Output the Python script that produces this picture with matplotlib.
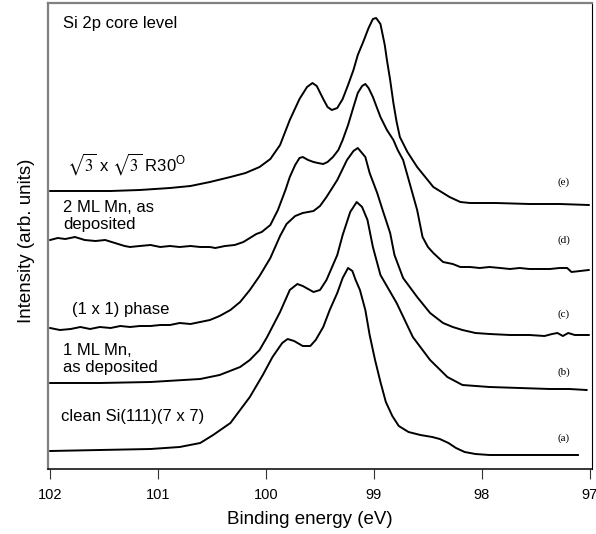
import matplotlib
matplotlib.use("Agg")
import matplotlib.pyplot as plt

plt.rcParams['font.family'] = ['Liberation Sans', 'DejaVu Sans']
plt.rcParams['mathtext.fontset'] = 'stix'

# Binding energy (eV) and intensity (arb. units) for each spectrum
E_a = [102.00, 101.54, 101.07, 100.80, 100.61, 100.49, 100.33, 100.24, 100.15, 100.03, 99.94, 99.85,
       99.80, 99.74, 99.66, 99.59, 99.54, 99.47, 99.41, 99.34, 99.29, 99.24, 99.20, 99.17, 99.13,
       99.08, 99.04, 98.99, 98.94, 98.89, 98.83, 98.77, 98.68, 98.57, 98.46, 98.39, 98.31, 98.24,
       98.16, 98.06, 97.93, 97.65, 97.37, 97.11]
I_a = [18, 19, 20, 22, 26, 34, 46, 59, 72, 94, 112, 126,
       130, 128, 123, 123, 129, 142, 159, 176, 191, 201, 198, 189, 179,
       159, 134, 109, 87, 67, 53, 43, 37, 34, 32, 30, 26, 21,
       17, 15, 14, 14, 14, 14]

E_b = [102.00, 101.54, 101.07, 100.61, 100.43, 100.24, 100.15, 100.06, 99.99, 99.87, 99.78, 99.71,
       99.66, 99.56, 99.50, 99.44, 99.34, 99.29, 99.22, 99.16, 99.11, 99.06, 99.01, 98.94, 98.79,
       98.64, 98.48, 98.32, 98.18, 97.93, 97.65, 97.37, 97.19, 97.03]
I_b = [86, 86, 87, 90, 94, 102, 109, 119, 132, 157, 179, 185,
       183, 177, 179, 189, 214, 234, 257, 267, 262, 249, 222, 194, 166,
       132, 109, 92, 84, 82, 81, 80, 80, 79]

E_c = [102.00, 101.91, 101.81, 101.72, 101.63, 101.54, 101.44, 101.35, 101.26, 101.17, 101.07, 100.98,
       100.89, 100.80, 100.70, 100.61, 100.52, 100.43, 100.33, 100.24, 100.15, 100.06, 99.96, 99.87,
       99.81, 99.73, 99.66, 99.56, 99.50, 99.44, 99.34, 99.25, 99.19, 99.15, 99.08, 99.04, 98.97,
       98.92, 98.85, 98.81, 98.73, 98.60, 98.48, 98.36, 98.27, 98.18, 98.06, 97.93, 97.74, 97.56,
       97.42, 97.35, 97.30, 97.25, 97.20, 97.14, 97.01]
I_c = [141, 139, 140, 142, 140, 142, 141, 143, 142, 143, 143, 144,
       144, 146, 145, 147, 149, 153, 159, 167, 179, 193, 211, 233,
       245, 253, 256, 258, 263, 272, 289, 309, 318, 321, 312, 296, 276,
       259, 236, 214, 191, 172, 156, 146, 142, 139, 136, 135, 134, 134,
       133, 135, 136, 133, 136, 134, 134]

E_d = [102.00, 101.93, 101.86, 101.77, 101.68, 101.58, 101.49, 101.40, 101.31, 101.26, 101.17, 101.07,
       100.98, 100.89, 100.80, 100.70, 100.61, 100.52, 100.47, 100.38, 100.29, 100.21, 100.15, 100.09,
       100.04, 99.96, 99.89, 99.82, 99.78, 99.73, 99.69, 99.66, 99.61, 99.56, 99.52, 99.47, 99.43,
       99.38, 99.33, 99.29, 99.24, 99.19, 99.15, 99.11, 99.08, 99.05, 99.01, 98.94, 98.88, 98.82,
       98.78, 98.73, 98.67, 98.60, 98.55, 98.50, 98.45, 98.36, 98.27, 98.20, 98.11, 98.02, 97.93,
       97.83, 97.74, 97.65, 97.56, 97.46, 97.37, 97.28, 97.21, 97.17, 97.09, 97.01]
I_d = [229, 231, 230, 232, 229, 228, 229, 226, 223, 222, 223, 224,
       222, 223, 222, 223, 222, 222, 221, 223, 224, 227, 231, 235,
       237, 244, 259, 279, 292, 304, 311, 312, 309, 307, 306, 305, 307,
       312, 319, 329, 344, 362, 376, 383, 385, 381, 372, 352, 339, 329,
       319, 309, 286, 259, 232, 222, 216, 207, 205, 202, 202, 201, 202,
       201, 200, 201, 200, 200, 200, 201, 201, 197, 198, 199]

E_e = [102.00, 101.72, 101.44, 101.17, 100.89, 100.70, 100.52, 100.33, 100.19, 100.06, 99.96, 99.87,
       99.78, 99.69, 99.62, 99.57, 99.53, 99.47, 99.43, 99.39, 99.34, 99.29, 99.24, 99.19, 99.15,
       99.10, 99.05, 99.01, 98.98, 98.94, 98.90, 98.88, 98.85, 98.82, 98.79, 98.76, 98.69, 98.60,
       98.45, 98.30, 98.20, 98.11, 97.87, 97.56, 97.28, 97.01]
I_e = [278, 278, 278, 279, 281, 283, 287, 292, 296, 302, 310, 324,
       349, 370, 382, 386, 383, 370, 362, 359, 361, 370, 384, 399, 414,
       427, 441, 450, 451, 445, 424, 409, 389, 366, 347, 332, 317, 302,
       282, 272, 267, 266, 266, 265, 265, 264]

spectra = [(E_a, I_a), (E_b, I_b), (E_c, I_c), (E_d, I_d), (E_e, I_e)]
curve_tags = ['(a)', '(b)', '(c)', '(d)', '(e)']
tag_levels = [31, 97, 155, 229, 287]

x_ticks = [102, 101, 100, 99, 98, 97]

fig = plt.figure(figsize=(5.96, 5.34), dpi=100)
ax = fig.add_axes([48/596, 1 - 469/534, 544/596, 466/534])

for E, I in spectra:
    ax.plot(E, I, color='black', lw=1.4, solid_joinstyle='round')

ax.set_xlim(102.02, 96.98)
ax.set_ylim(0, 466)
ax.set_xticks(x_ticks)
ax.set_xticklabels([str(t) for t in x_ticks])
ax.set_yticks([])
ax.tick_params(axis='x', direction='out', length=7.5, width=0.8, color='#333333',
               labelsize=10.5, pad=6)

for side in ['top', 'left']:
    ax.spines[side].set_color('#808080')
    ax.spines[side].set_linewidth(1.6)
ax.spines['bottom'].set_color('black')
ax.spines['bottom'].set_linewidth(1.1)
ax.spines['right'].set_color('black')
ax.spines['right'].set_linewidth(0.8)

ax.set_xlabel('Binding energy (eV)', fontsize=13.5)
ax.xaxis.set_label_coords(0.482, -0.09)
ax.set_ylabel('Intensity (arb. units)', fontsize=13.5)
ax.yaxis.set_label_coords(-0.024, 0.49)

tf = ax.transAxes
fs = 12
ax.text(0.028, 0.955, 'Si 2p core level', transform=tf, fontsize=fs, va='center', ha='left')
ax.text(0.035, 0.655, r'$\sqrt{3}$ x $\sqrt{3}$ R30$\mathregular{^{O}}$', transform=tf, fontsize=fs,
        va='center', ha='left')
ax.text(0.028, 0.543, '2 ML Mn, as\ndeposited', transform=tf, fontsize=fs, va='center', ha='left')
ax.text(0.044, 0.343, '(1 x 1) phase', transform=tf, fontsize=fs, va='center', ha='left')
ax.text(0.028, 0.236, '1 ML Mn,\nas deposited', transform=tf, fontsize=fs, va='center', ha='left')
ax.text(0.024, 0.112, 'clean Si(111)(7 x 7)', transform=tf, fontsize=fs, va='center', ha='left')

for tag, lev in zip(curve_tags, tag_levels):
    ax.text(97.24, lev, tag, fontsize=8, family=['Liberation Serif', 'DejaVu Serif'],
            ha='center', va='center')

fig.savefig('out.png', dpi=100)
